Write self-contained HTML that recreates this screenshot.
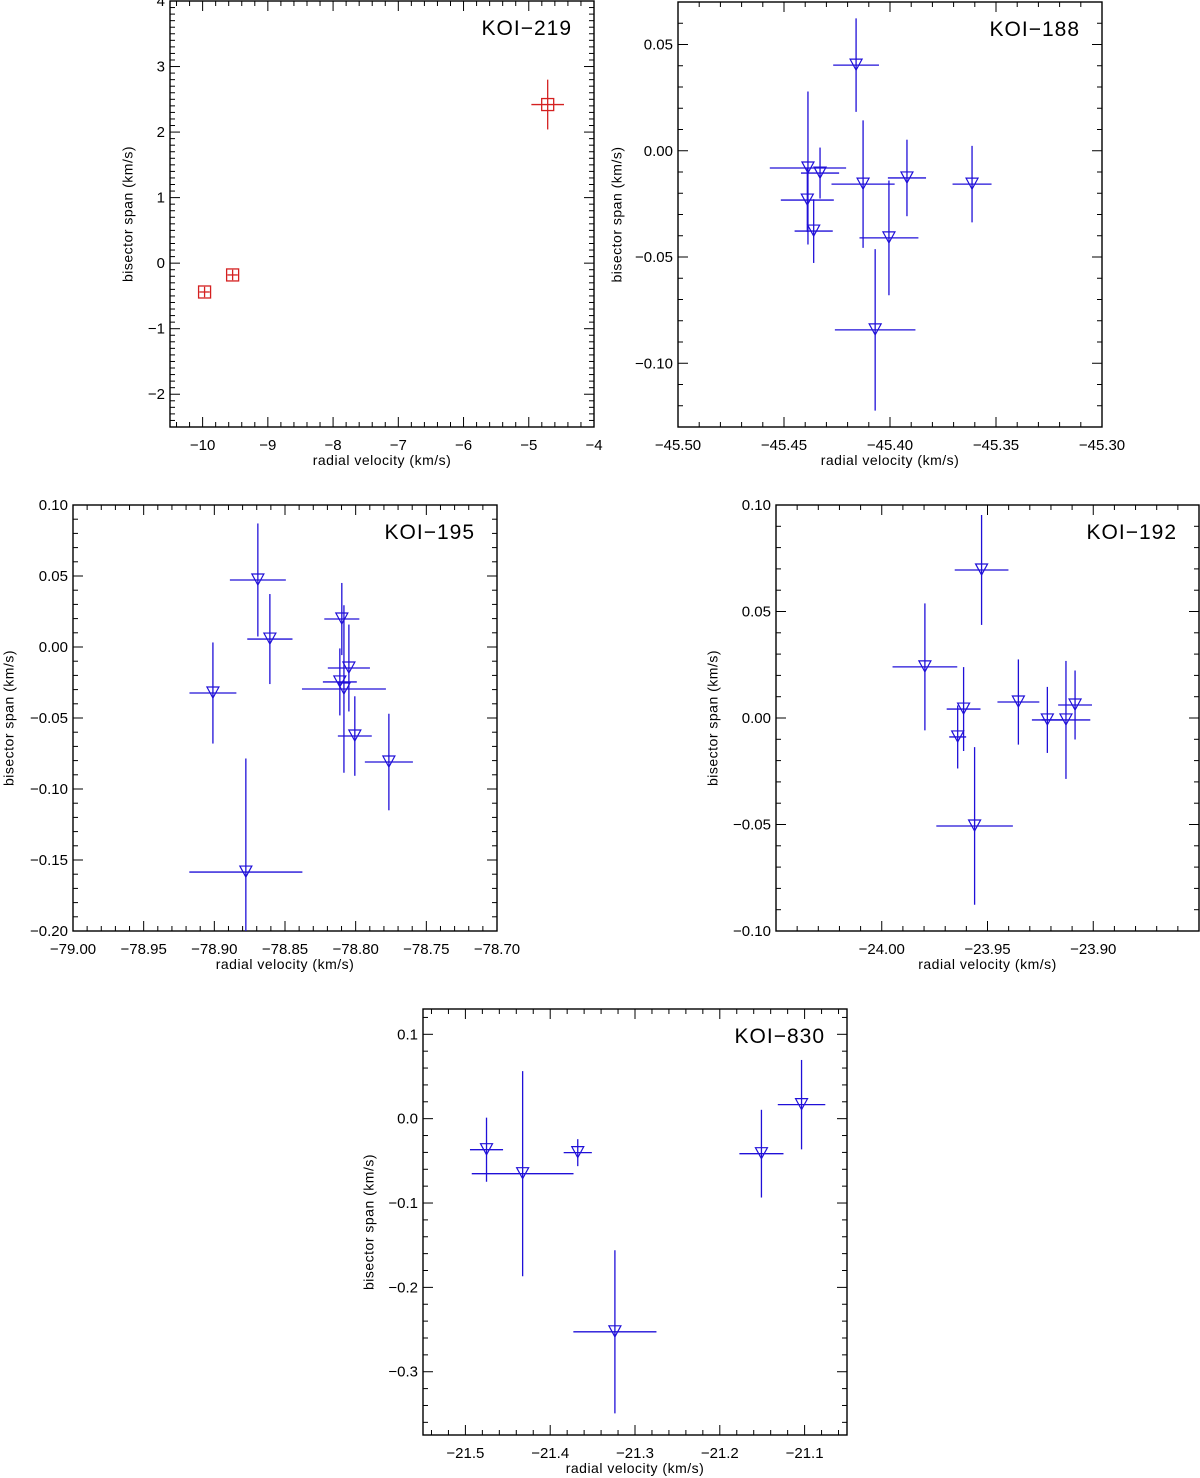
<!DOCTYPE html>
<html><head><meta charset="utf-8">
<style>
html,body{margin:0;padding:0;background:#fff;}
svg{display:block;font-family:"Liberation Sans","DejaVu Sans",sans-serif;}
</style></head>
<body>
<svg id="fig" width="1200" height="1478" viewBox="0 0 1200 1478" xmlns="http://www.w3.org/2000/svg"></svg>
<script>
// KOI-219
const p1X = [-9.97, -9.54, -4.71];
const p1Y = [-0.44, -0.18, 2.42];
const p1XE = [0.08, 0.08, 0.25];
const p1YE = [0.08, 0.08, 0.38];
// KOI-188
const p2X = [-45.416, -45.4387, -45.433, -45.439, -45.436, -45.4127, -45.392, -45.4005, -45.407, -45.3613];
const p2Y = [0.0403, -0.0081, -0.0105, -0.0232, -0.0378, -0.0157, -0.0128, -0.041, -0.0843, -0.0157];
const p2XE = [0.0108, 0.018, 0.009, 0.0125, 0.009, 0.0149, 0.009, 0.0139, 0.019, 0.0092];
const p2YE = [0.022, 0.036, 0.012, 0.015, 0.015, 0.030, 0.018, 0.027, 0.038, 0.018];
// KOI-195
const p3X = [-78.8692, -78.8607, -78.901, -78.8777, -78.8098, -78.8048, -78.8112, -78.8083, -78.8006, -78.7765];
const p3Y = [0.0472, 0.0056, -0.0324, -0.1585, 0.0197, -0.0148, -0.0246, -0.0296, -0.0627, -0.081];
const p3XE = [0.0198, 0.016, 0.0166, 0.040, 0.0124, 0.0149, 0.012, 0.0297, 0.012, 0.017];
const p3YE = [0.0398, 0.0317, 0.0356, 0.080, 0.0254, 0.0306, 0.0236, 0.059, 0.028, 0.034];
// KOI-192
const p4X = [-23.9796, -23.9528, -23.9613, -23.9561, -23.9641, -23.9354, -23.9217, -23.9129, -23.9086];
const p4Y = [0.024, 0.0695, 0.0042, -0.0507, -0.0089, 0.0075, -0.0009, -0.0009, 0.0061];
const p4XE = [0.0153, 0.0127, 0.008, 0.0181, 0.004, 0.0099, 0.0073, 0.0115, 0.008];
const p4YE = [0.0298, 0.0258, 0.0197, 0.037, 0.0148, 0.020, 0.0155, 0.0277, 0.0162];
// KOI-830
const p5X = [-21.4751, -21.4325, -21.3675, -21.3237, -21.1509, -21.1036];
const p5Y = [-0.0368, -0.0652, -0.0403, -0.2527, -0.0415, 0.0166];
const p5XE = [0.0195, 0.060, 0.0166, 0.049, 0.026, 0.028];
const p5YE = [0.038, 0.1216, 0.016, 0.0967, 0.052, 0.053];

const NS = "http://www.w3.org/2000/svg";
const fig = document.getElementById('fig');
function mk(tag, attrs, parent){
  const e = document.createElementNS(NS, tag);
  for (const k in attrs) e.setAttribute(k, attrs[k]);
  (parent||fig).appendChild(e);
  return e;
}
function fmt(v, dec){
  const s = Math.abs(v).toFixed(dec);
  return (v < -1e-9 ? '\u2212' : '') + s;
}
function panel(cfg){
  const g = mk('g', {});
  
  
  const [x0,y0,x1,y1] = cfg.box;
  const sx = v => x0 + (v - cfg.xlim[0])/(cfg.xlim[1]-cfg.xlim[0])*(x1-x0);
  const sy = v => y1 - (v - cfg.ylim[0])/(cfg.ylim[1]-cfg.ylim[0])*(y1-y0);
  const cid = cfg.name + '-clip';
  const cp = mk('clipPath', {id: cid}, g);
  mk('rect', {x:x0, y:y0, width:x1-x0, height:y1-y0}, cp);
  const frame = mk('rect', {x:x0, y:y0, width:x1-x0, height:y1-y0, fill:'none', stroke:'#000', 'stroke-width':1.4}, g);
  
  
  const eps = 1e-9;
  const xt = mk('g', {}, g);
  
  
  let nMin = Math.ceil((cfg.xlim[0]-eps)/cfg.xminor), nMax = Math.floor((cfg.xlim[1]+eps)/cfg.xminor);
  for (let i=nMin;i<=nMax;i++){
    const v = i*cfg.xminor;
    const major = Math.abs(v/cfg.xmajor - Math.round(v/cfg.xmajor)) < 1e-6;
    const L = major ? 10 : 5, x = sx(v);
    mk('line', {x1:x, x2:x, y1:y1, y2:y1-L, stroke:'#000', 'stroke-width':1}, xt);
    mk('line', {x1:x, x2:x, y1:y0, y2:y0+L, stroke:'#000', 'stroke-width':1}, xt);
    const atEdge = (i===nMin || i===nMax);
    if (major && !(cfg.hideEdgeX && atEdge)){
      const t = mk('text', {x:x, y:y1+23, 'text-anchor':'middle', 'font-size':15}, xt);
      t.textContent = fmt(v, cfg.xdec);
    }
  }
  const yt = mk('g', {}, g);
  
  
  nMin = Math.ceil((cfg.ylim[0]-eps)/cfg.yminor); nMax = Math.floor((cfg.ylim[1]+eps)/cfg.yminor);
  for (let i=nMin;i<=nMax;i++){
    const v = i*cfg.yminor;
    const major = Math.abs(v/cfg.ymajor - Math.round(v/cfg.ymajor)) < 1e-6;
    const L = major ? 10 : 5, y = sy(v);
    mk('line', {x1:x0, x2:x0+L, y1:y, y2:y, stroke:'#000', 'stroke-width':1}, yt);
    mk('line', {x1:x1, x2:x1-L, y1:y, y2:y, stroke:'#000', 'stroke-width':1}, yt);
    if (major){
      const t = mk('text', {x:x0-5, y:y+5, 'text-anchor':'end', 'font-size':15}, yt);
      t.textContent = fmt(v, cfg.ydec);
    }
  }
  const xl = mk('text', {x:(x0+x1)/2, y:y1+38, 'text-anchor':'middle', 'font-size':14, 'letter-spacing':'0.5'}, g);
  
  
  xl.textContent = 'radial velocity (km/s)';
  const ylx = x0 - cfg.ylabOff, yly = (y0+y1)/2;
  const yl = mk('text', {x:ylx, y:yly, 'text-anchor':'middle', 'dominant-baseline':'middle', 'font-size':14, 'letter-spacing':'0.5', transform:`rotate(-90 ${ylx} ${yly})`}, g);
  
  
  yl.textContent = 'bisector span (km/s)';
  const ti = mk('text', {x:x1-22, y:y0+34, 'text-anchor':'end', 'font-size':21, 'letter-spacing':'1'}, g);
  
  
  ti.textContent = cfg.title;
  const dg = mk('g', {'clip-path':`url(#${cid})`}, g);
  
  
  const col = cfg.color;
  for (let i=0;i<cfg.X.length;i++){
    const pg = mk('g', {}, dg);
    
    
    const x = sx(cfg.X[i]), y = sy(cfg.Y[i]);
    mk('line', {x1:sx(cfg.X[i]-cfg.XE[i]), x2:sx(cfg.X[i]+cfg.XE[i]), y1:y, y2:y, stroke:col, 'stroke-width':1.3}, pg);
    mk('line', {x1:x, x2:x, y1:sy(cfg.Y[i]-cfg.YE[i]), y2:sy(cfg.Y[i]+cfg.YE[i]), stroke:col, 'stroke-width':1.3}, pg);
    if (cfg.marker === 'square'){
      mk('rect', {x:x-6, y:y-6, width:12, height:12, fill:'none', stroke:col, 'stroke-width':1.3}, pg);
    } else {
      mk('polygon', {points:`${x-6},${y-6} ${x+6},${y-6} ${x},${y+5}`, fill:'none', stroke:col, 'stroke-width':1.2}, pg);
    }
  }
}
panel({name:'koi-219-panel', title:'KOI\u2212219', box:[170,1,594,427], xlim:[-10.5,-4], ylim:[-2.5,4],
  xmajor:1, xminor:0.2, ymajor:1, yminor:0.1, xdec:0, ydec:0, ylabOff:41,
  X:p1X, Y:p1Y, XE:p1XE, YE:p1YE, color:'#d42020', marker:'square'});
panel({name:'koi-188-panel', title:'KOI\u2212188', box:[678,2,1102,427], xlim:[-45.5,-45.3], ylim:[-0.13,0.07],
  xmajor:0.05, xminor:0.01, ymajor:0.05, yminor:0.01, xdec:2, ydec:2, ylabOff:60,
  X:p2X, Y:p2Y, XE:p2XE, YE:p2YE, color:'#2010d8', marker:'tri'});
panel({name:'koi-195-panel', title:'KOI\u2212195', box:[73,505,497,931], xlim:[-79,-78.7], ylim:[-0.2,0.1],
  xmajor:0.05, xminor:0.01, ymajor:0.05, yminor:0.01, xdec:2, ydec:2, ylabOff:63,
  X:p3X, Y:p3Y, XE:p3XE, YE:p3YE, color:'#2010d8', marker:'tri'});
panel({name:'koi-192-panel', title:'KOI\u2212192', box:[776,505,1199,931], xlim:[-24.05,-23.85], ylim:[-0.1,0.1],
  xmajor:0.05, xminor:0.01, ymajor:0.05, yminor:0.01, xdec:2, ydec:2, ylabOff:62, hideEdgeX:true,
  X:p4X, Y:p4Y, XE:p4XE, YE:p4YE, color:'#2010d8', marker:'tri'});
panel({name:'koi-830-panel', title:'KOI\u2212830', box:[423,1009,847,1435], xlim:[-21.55,-21.05], ylim:[-0.375,0.13],
  xmajor:0.1, xminor:0.02, ymajor:0.1, yminor:0.02, xdec:1, ydec:1, ylabOff:53,
  X:p5X, Y:p5Y, XE:p5XE, YE:p5YE, color:'#2010d8', marker:'tri'});
</script>
</body></html>
